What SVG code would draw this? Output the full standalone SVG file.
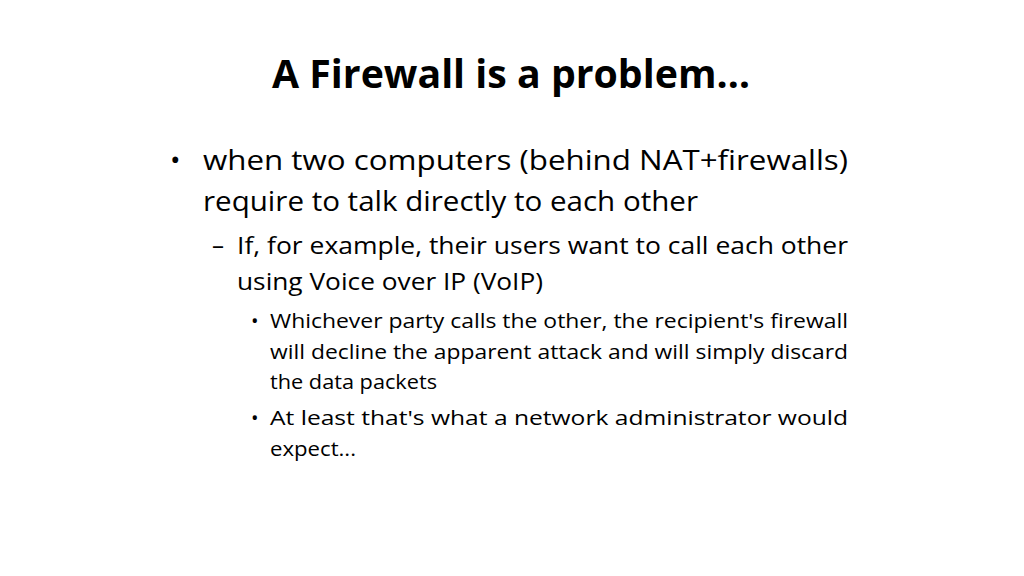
<svg xmlns="http://www.w3.org/2000/svg" width="1024" height="576" viewBox="0 0 1024 576">
<style>
text{font-family:"Open Sans","Liberation Sans",sans-serif;fill:#000}
.t{font-size:40px;font-weight:bold}
.l1{font-size:28px}
.l2{font-size:24px}
.l3{font-size:20px}
</style>
<rect width="1024" height="576" fill="#fff"/>
<g id="title"><text class="t" x="272" y="88" textLength="478" lengthAdjust="spacingAndGlyphs">A Firewall is a problem…</text></g>
<g id="body">
<text class="l1" x="170" y="170">•</text>
<text class="l1" x="203" y="170" textLength="645" lengthAdjust="spacingAndGlyphs">when  two  computers  (behind  NAT+firewalls)</text>
<text class="l1" x="203" y="211" textLength="495" lengthAdjust="spacingAndGlyphs">require to talk directly to each other</text>
<text class="l2" x="212" y="254">–</text>
<text class="l2" x="237" y="254" textLength="611" lengthAdjust="spacingAndGlyphs">If, for example, their users want to call each other</text>
<text class="l2" x="237" y="290" textLength="306" lengthAdjust="spacingAndGlyphs">using Voice over IP (VoIP)</text>
<text class="l3" x="251" y="328">•</text>
<text class="l3" x="270" y="328" textLength="578" lengthAdjust="spacingAndGlyphs">Whichever party calls the other, the recipient's firewall</text>
<text class="l3" x="270" y="359" textLength="578" lengthAdjust="spacingAndGlyphs">will decline the apparent attack and will simply discard</text>
<text class="l3" x="270" y="389" textLength="167" lengthAdjust="spacingAndGlyphs">the data packets</text>
<text class="l3" x="251" y="425">•</text>
<text class="l3" x="270" y="425" textLength="578" lengthAdjust="spacingAndGlyphs">At  least  that's  what  a  network  administrator  would</text>
<text class="l3" x="270" y="456" textLength="86" lengthAdjust="spacingAndGlyphs">expect...</text>
</g>
</svg>
